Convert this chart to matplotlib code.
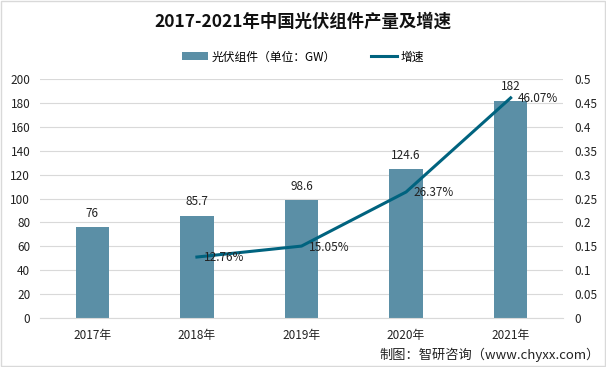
import matplotlib
matplotlib.use("Agg")
import matplotlib.pyplot as plt
import numpy as np

plt.rcParams["font.family"] = ["Noto Sans CJK SC", "DejaVu Sans"]

years = ["2017年", "2018年", "2019年", "2020年", "2021年"]
output_gw = [76, 85.7, 98.6, 124.6, 182]
growth_years = ["2018年", "2019年", "2020年", "2021年"]
growth = [0.1276, 0.1505, 0.2637, 0.4607]

BAR_COLOR = "#5b8fa6"
LINE_COLOR = "#00637f"
GRID_COLOR = "#d9d9d9"

fig = plt.figure(figsize=(6.06, 3.67), dpi=100)
ax = fig.add_axes([0.066, 0.1335, 0.863, 0.651])
ax2 = ax.twinx()

x = np.arange(len(years))
ax.bar(x, output_gw, width=0.32, color=BAR_COLOR, zorder=2,
       label="光伏组件（单位：GW）")
for xi, v in zip(x, output_gw):
    ax.text(xi, v + 6, f"{v:g}", ha="center", va="bottom", fontsize=8.5,
            color="#222222")

gx = [years.index(y) for y in growth_years]
ax2.plot(gx, growth, color=LINE_COLOR, lw=2.2, zorder=3, label="增速")
for xi, g in zip(gx, growth):
    ax2.text(xi + 0.07, g - 0.002, f"{g*100:.2f}%", ha="left", va="center",
             fontsize=8.5, color="#222222")

ax.set_xlim(-0.5, len(years) - 0.5)
ax.set_ylim(0, 200)
ax.set_yticks(np.arange(0, 201, 20))
ax2.set_ylim(0, 0.5)
ticks2 = np.round(np.arange(0, 0.51, 0.05), 2)
ax2.set_yticks(ticks2)
ax2.set_yticklabels([f"{t:g}" for t in ticks2])
ax.set_xticks(x)
ax.set_xticklabels(years)

ax.yaxis.grid(True, color=GRID_COLOR, lw=0.8, zorder=0)
ax.set_axisbelow(True)
for a in (ax, ax2):
    for s in a.spines.values():
        s.set_visible(False)
    a.tick_params(length=0, labelsize=8.5, colors="#222222")
ax.spines["bottom"].set_visible(True)
ax.spines["bottom"].set_color(GRID_COLOR)
ax.tick_params(axis="x", pad=8)
ax.tick_params(axis="y", pad=7)
ax2.tick_params(axis="y", pad=8)

fig.text(0.5, 0.94, "2017-2021年中国光伏组件产量及增速", ha="center", va="center",
         fontsize=12.5, fontweight="bold", color="#111111")
h1, l1 = ax.get_legend_handles_labels()
h2, l2 = ax2.get_legend_handles_labels()
fig.legend(h1 + h2, l1 + l2, loc="center", bbox_to_anchor=(0.5, 0.845), ncol=2,
           frameon=False, fontsize=8.5, handlelength=2.2, columnspacing=3,
           handletextpad=0.3)
fig.text(0.99, 0.033, "制图：智研咨询（www.chyxx.com）", ha="right", va="center",
         fontsize=9.5, color="#222222")

fig.patches.append(plt.Rectangle((0.002, 0.003), 0.996, 0.994, transform=fig.transFigure,
                                 fill=False, ec="#d9d9d9", lw=1))

fig.savefig("out.png", dpi=100)
